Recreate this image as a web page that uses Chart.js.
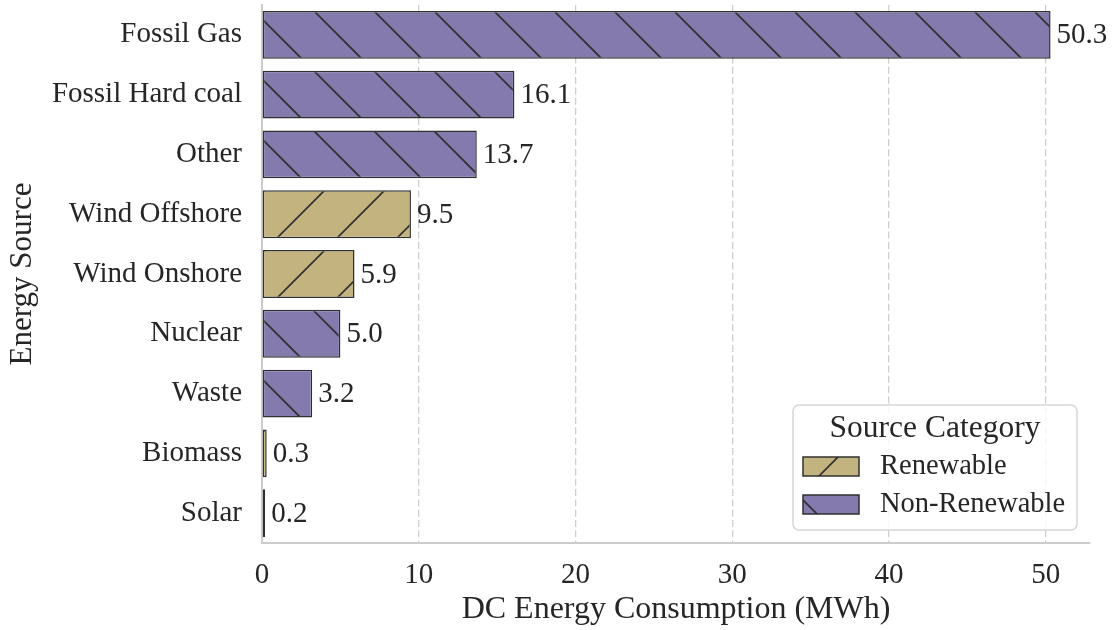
<!DOCTYPE html>
<html>
<head>
<meta charset="utf-8">
<script src="https://cdn.jsdelivr.net/npm/chart.js@4/dist/chart.umd.min.js"></script>
<style>
  html, body { margin: 0; padding: 0; background: #ffffff; }
  #wrap { position: relative; width: 1117px; height: 630px; }
</style>
</head>
<body>
<div id="wrap"><canvas id="chart" width="1117" height="630"></canvas></div>
<script>
// Energy sources feeding the data centre, largest first
const sources = ['Fossil Gas', 'Fossil Hard coal', 'Other', 'Wind Offshore', 'Wind Onshore',
                 'Nuclear', 'Waste', 'Biomass', 'Solar'];
const consumption = [50.3, 16.1, 13.7, 9.5, 5.9, 5.0, 3.2, 0.3, 0.2];   // MWh
const sourceCategory = ['Non-Renewable', 'Non-Renewable', 'Non-Renewable', 'Renewable', 'Renewable',
                        'Non-Renewable', 'Non-Renewable', 'Renewable', 'Renewable'];
const legendCategories = ['Renewable', 'Non-Renewable'];
const xTicks = [0, 10, 20, 30, 40, 50];

const FONT = "'Liberation Serif', 'Times New Roman', serif";
const TEXT = '#262626';
const EDGE = '#303030';
const fills = { 'Renewable': '#C3B47F', 'Non-Renewable': '#857AAD' };

// Hatched fills: diagonal lines on a 60px repeat, anchored to the canvas origin
function hatch(color, dir, offset) {
  const c = document.createElement('canvas');
  c.width = 60; c.height = 60;
  const g = c.getContext('2d');
  g.fillStyle = color;
  g.fillRect(0, 0, 60, 60);
  g.strokeStyle = EDGE;
  g.lineWidth = 1.7;
  g.beginPath();
  for (let k = -2; k <= 2; k++) {
    const x0 = offset + 60 * k;
    if (dir === 'back') { g.moveTo(x0, 0); g.lineTo(x0 + 60, 60); }
    else { g.moveTo(x0, 0); g.lineTo(x0 - 60, 60); }
  }
  g.stroke();
  return g.createPattern(c, 'repeat');
}
const patterns = {
  'Renewable': hatch(fills['Renewable'], 'fwd', 35),
  'Non-Renewable': hatch(fills['Non-Renewable'], 'back', 3)
};

// Value printed at the end of each bar
const valueLabels = {
  id: 'valueLabels',
  afterDatasetsDraw(chart) {
    const ctx = chart.ctx;
    const meta = chart.getDatasetMeta(0);
    ctx.save();
    ctx.font = '29px ' + FONT;
    ctx.fillStyle = TEXT;
    ctx.textAlign = 'left';
    ctx.textBaseline = 'middle';
    meta.data.forEach((bar, i) => {
      ctx.fillText(consumption[i].toFixed(1), bar.x + 6, bar.y + 1);
    });
    ctx.restore();
  }
};

// Boxed legend in the lower-right corner of the plot
const categoryLegend = {
  id: 'categoryLegend',
  afterDraw(chart) {
    const ctx = chart.ctx;
    const a = chart.chartArea;
    const w = 284, h = 125;
    const x = a.right - 13 - w, y = a.bottom - 13 - h;
    ctx.save();
    ctx.beginPath();
    ctx.roundRect(x, y, w, h, 6);
    ctx.fillStyle = 'rgba(255,255,255,0.8)';
    ctx.fill();
    ctx.strokeStyle = '#d6d6d6';
    ctx.lineWidth = 1.5;
    ctx.stroke();

    ctx.fillStyle = TEXT;
    ctx.textBaseline = 'middle';
    ctx.textAlign = 'center';
    ctx.font = '31.5px ' + FONT;
    ctx.fillText('Source Category', x + w / 2, y + 24);

    ctx.textAlign = 'left';
    ctx.font = '28.5px ' + FONT;
    legendCategories.forEach((cat, i) => {
      const py = y + 52 + i * 38;
      ctx.fillStyle = patterns[cat];
      ctx.fillRect(x + 10, py, 56, 19);
      ctx.strokeStyle = EDGE;
      ctx.lineWidth = 1.5;
      ctx.strokeRect(x + 10, py, 56, 19);
      ctx.fillStyle = TEXT;
      ctx.fillText(cat, x + 87, py + 10);
    });
    ctx.restore();
  }
};

new Chart(document.getElementById('chart'), {
  type: 'bar',
  data: {
    labels: sources,
    datasets: [{
      data: consumption,
      backgroundColor: sourceCategory.map(c => patterns[c]),
      borderColor: EDGE,
      borderWidth: 1.5,
      borderSkipped: false,
      categoryPercentage: 1.0,
      barPercentage: 0.8
    }]
  },
  options: {
    indexAxis: 'y',
    responsive: false,
    animation: false,
    devicePixelRatio: 1,
    layout: { padding: { top: 5, right: 27, left: 0, bottom: 0 } },
    plugins: { legend: { display: false }, tooltip: { enabled: false } },
    scales: {
      x: {
        type: 'linear',
        min: 0,
        max: 52.815,
        afterFit(s) { s.height = 87; s.paddingLeft = 0; s.paddingRight = 0; },
        afterBuildTicks(s) { s.ticks = xTicks.map(v => ({ value: v })); },
        ticks: {
          includeBounds: false,
          padding: 18,
          color: TEXT,
          font: { family: FONT, size: 29, lineHeight: 1 },
          callback: v => String(v)
        },
        grid: { display: true, drawTicks: false, color: '#cfcfcf', lineWidth: 1.3 },
        border: { display: true, color: '#cccccc', width: 2, dash: [7, 3.3] },
        title: {
          display: true,
          text: 'DC Energy Consumption (MWh)',
          color: TEXT,
          font: { family: FONT, size: 32, lineHeight: 1 },
          padding: { top: 0, bottom: 4 }
        }
      },
      y: {
        type: 'category',
        afterFit(s) { s.width = 262; s.paddingTop = 0; s.paddingBottom = 0; },
        ticks: {
          padding: 20,
          color: TEXT,
          font: { family: FONT, size: 29, lineHeight: 1 }
        },
        grid: { display: false, drawTicks: false },
        border: { display: true, color: '#cccccc', width: 2 },
        title: {
          display: true,
          text: 'Energy Source',
          color: TEXT,
          font: { family: FONT, size: 31, lineHeight: 1 },
          padding: { top: 7, bottom: 0 }
        }
      }
    }
  },
  plugins: [valueLabels, categoryLegend]
});
</script>
</body>
</html>
